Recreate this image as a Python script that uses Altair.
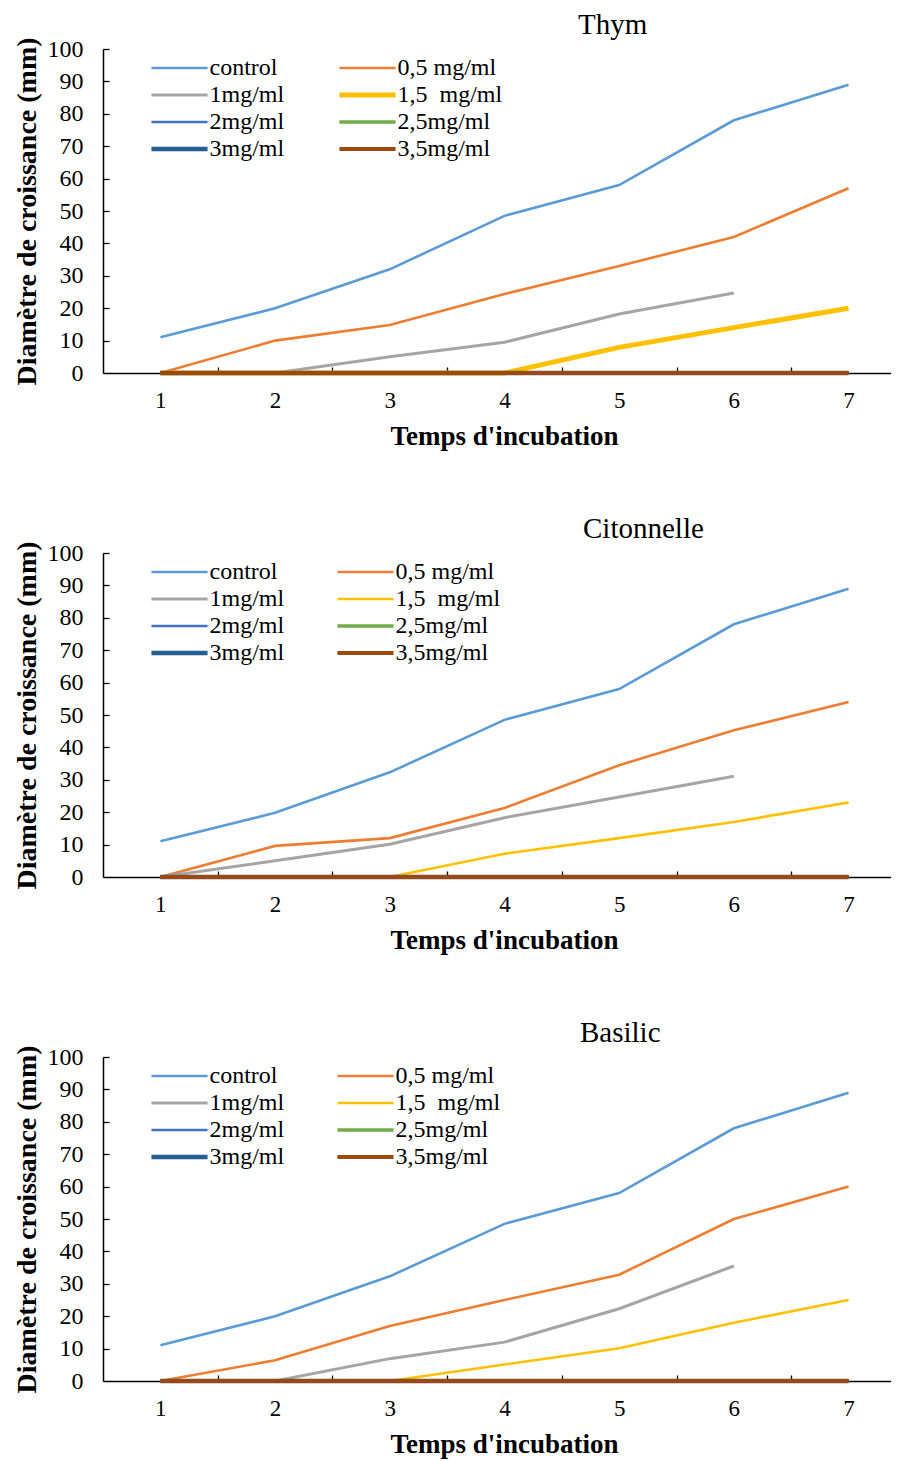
import altair as alt
import pandas as pd

days = [1, 2, 3, 4, 5, 6, 7]
series = ["control", "0,5 mg/ml", "1mg/ml", "1,5\u00a0 mg/ml",
          "2mg/ml", "2,5mg/ml", "3mg/ml", "3,5mg/ml"]
colors = ["#5B9BD5", "#ED7D31", "#A5A5A5", "#FFC000",
          "#4472C4", "#70AD47", "#255E91", "#9E480E"]

# Thym
thym_control = [11, 20, 32, 48.5, 58, 78, 89]
thym_05 = [0, 10, 14.8, 24.4, 33, 42, 57]
thym_1 = [0, 0, 5, 9.5, 18.2, 24.7, None]
thym_15 = [0, 0, 0, 0, 7.9, 14, 20]
# Citonnelle
cit_control = [11, 19.8, 32.3, 48.5, 58, 78, 89]
cit_05 = [0, 9.6, 12, 21.3, 34.5, 45.3, 54]
cit_1 = [0, 5, 10.1, 18.3, 24.7, 31.1, None]
cit_15 = [0, 0, 0, 7.2, 12, 17, 23]
# Basilic
bas_control = [11, 20, 32.3, 48.5, 58, 78, 89]
bas_05 = [0, 6.4, 17, 25, 32.8, 50, 60]
bas_1 = [0, 0, 6.9, 12, 22.3, 35.5, None]
bas_15 = [0, 0, 0, 5.1, 10.1, 18, 25]
zeros = [0, 0, 0, 0, 0, 0, 0]

widths_thym = [2.6, 2.6, 3, 5, 2.6, 3.6, 4.6, 4]
widths_other = [2.6, 2.6, 3, 2.6, 2.6, 3.6, 4.6, 4]

FONT = "Liberation Serif"
W = 788
H = 324


def make_df(vals):
    rows = []
    for k, (s, v) in enumerate(zip(series, vals)):
        for d, y in zip(days, v):
            rows.append({"day": d, "value": y, "series": s, "k": k})
    return pd.DataFrame(rows)


def legend():
    return alt.Legend(orient="none", legendX=64.5, legendY=7, direction="horizontal",
                      columns=2, title=None, symbolType="M-5,0H5",
                      symbolSize=126, labelFont=FONT,
                      labelFontSize=24, labelColor="#000",
                      labelOffset=18, rowPadding=3,
                      columnPadding=44, symbolOpacity=1)


def panel(title, dx, vals, widths):
    df = make_df(vals)
    xscale = alt.Scale(domain=[0.5, 0.5 + W / 114.7], nice=False, zero=False)
    yscale = alt.Scale(domain=[0, 100], nice=False)
    lines = alt.Chart(df).mark_line(strokeCap="butt").encode(
        x=alt.X("day:Q", scale=xscale,
                axis=alt.Axis(values=days, ticks=False, grid=False,
                              domainColor="#000", domainWidth=1.5,
                              labelFont=FONT, labelFontSize=23, labelColor="#000",
                              labelPadding=16, title="Temps d'incubation",
                              titleFont=FONT, titleFontSize=27, titleFontWeight="bold",
                              titleColor="#000", titlePadding=11, titleX=401, zindex=0)),
        y=alt.Y("value:Q", scale=yscale,
                axis=alt.Axis(values=list(range(0, 101, 10)), ticks=False, grid=False,
                              domainColor="#000", domainWidth=1.5,
                              labelFont=FONT, labelFontSize=24, labelColor="#000",
                              labelPadding=20, title="Diamètre de croissance (mm)",
                              titleFont=FONT, titleFontSize=28, titleFontWeight="bold",
                              titleColor="#000", titlePadding=6, zindex=0)),
        color=alt.Color("series:N", scale=alt.Scale(domain=series, range=colors),
                        legend=legend()),
        strokeWidth=alt.StrokeWidth("series:N",
                                    scale=alt.Scale(type="ordinal", domain=series, range=widths),
                                    legend=legend()),
        order=alt.Order("day:Q"),
    )
    ticks = alt.Chart(df).mark_point(opacity=0).encode(
        x=alt.X("day:Q", scale=xscale,
                axis=alt.Axis(orient="top", offset=-H, values=[1.5, 2.5, 3.5, 4.5, 5.5, 6.5],
                              labels=False, domain=False, grid=False, tickSize=6,
                              tickColor="#000", tickWidth=1.3, title=None,
                              minExtent=0, maxExtent=0)),
        y=alt.Y("value:Q", scale=yscale,
                axis=alt.Axis(orient="right", offset=-W, values=list(range(10, 101, 10)),
                              labels=False, domain=False, grid=False, tickSize=6,
                              tickColor="#000", tickWidth=1.3, title=None,
                              minExtent=0, maxExtent=0)),
    )
    return alt.layer(lines, ticks).resolve_axis(x="independent", y="independent").properties(
        width=W, height=H,
        title=alt.TitleParams(title, anchor="start", frame="group", dx=dx,
                              font=FONT, fontSize=29, fontWeight="normal",
                              color="#000", offset=-3),
    )


p1 = panel("Thym", 475, [thym_control, thym_05, thym_1, thym_15, zeros, zeros, zeros, zeros],
           widths_thym)
p2 = panel("Citonnelle", 480, [cit_control, cit_05, cit_1, cit_15, zeros, zeros, zeros, zeros],
           widths_other)
p3 = panel("Basilic", 477, [bas_control, bas_05, bas_1, bas_15, zeros, zeros, zeros, zeros],
           widths_other)

chart = alt.vconcat(p1, p2, p3, spacing=65).resolve_scale(
    strokeWidth="independent", color="independent"
).resolve_legend(strokeWidth="independent", color="independent").configure_view(
    stroke=None).properties(padding={"left": 5, "top": 2, "right": 0, "bottom": 5})

chart.save("out.html", embed_options={"renderer": "svg", "actions": False})
